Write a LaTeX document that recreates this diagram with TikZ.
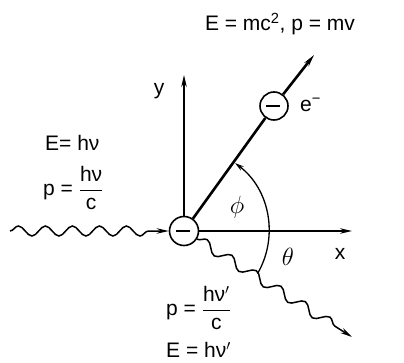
\documentclass[tikz,border=0pt]{standalone}
\usepackage{fontspec}
\setmainfont{Liberation Sans}
\usetikzlibrary{arrows.meta,decorations.pathmorphing}
\tikzset{
  tip/.style={-{Stealth[length=12pt,width=5.5pt]}},
  particle/.style={circle,draw,line width=1.6pt,minimum size=29pt,inner sep=0pt},
  lab/.style={font=\fontsize{21}{23}\selectfont,inner sep=0pt},
  greek/.style={font=\fontsize{25}{27}\selectfont,inner sep=0pt},
  wave/.style={decorate,line width=1.5pt},
}
\newcommand{\minusbar}[1]{\draw[line width=1.6pt] ([xshift=-8pt]#1.center) -- ([xshift=6pt]#1.center);}
\begin{document}
\begin{tikzpicture}[x=1pt,y=1pt]
\useasboundingbox (0,0) rectangle (404,362);
% particles
\node[particle] (C) at (184,131) {};
\node[particle,minimum size=28pt] (E) at (274,256) {};
\minusbar{C}
\minusbar{E}
% axes
\coordinate (xend) at (352,131);
\coordinate (yend) at (184,287);
\draw[tip,line width=1.4pt] (C.east) -- (xend);
\draw[tip,line width=1.4pt] (C.north) -- (yend);
\node[lab] (xl) at (340,108) {x};
\node[lab] (yl) at (159,271) {y};
% electron
\coordinate (etip) at (314,307);
\draw[line width=2.6pt] (C) -- (E);
\draw[tip,line width=2.6pt] (E) -- (etip);
\node[lab,anchor=west] (el) at (300,257) {e\textsuperscript{−}};
\node[lab] (top) at (280,338) {E = mc\textsuperscript{2}, p = mv};
% incoming photon
\coordinate (pin) at (10,131);
\draw[wave,tip,decoration={snake,amplitude=5pt,segment length=27pt,post length=16pt}] (pin) -- (C.west);
% scattered photon
\coordinate (pout) at (352,25);
\draw[wave,tip,decoration={snake,amplitude=5pt,segment length=29pt,post length=14pt}] (C.-32) -- (pout);
% angle arc
\draw[-{Stealth[length=9pt,width=5pt]},line width=1.3pt] (C.center) ++(-30:85) arc[start angle=-30,end angle=53,radius=85];
\node[greek] (phi) at (237,155) {$\phi$};
\node[greek] (theta) at (288,105) {$\theta$};
% labels left
\node[lab,anchor=west] (Ein) at (45,219) {E= hν};
\node[lab,anchor=west] (pinl) at (43,174) {p = $\displaystyle\frac{\mbox{hν}}{\mbox{c}}$};
% labels lower
\node[lab,anchor=west] (poutl) at (166,54) {p = $\displaystyle\frac{\mbox{hν$'$}}{\mbox{c}}$};
\node[lab,anchor=west] (Eout) at (166,12) {E = hν$'$};
\end{tikzpicture}
\end{document}
